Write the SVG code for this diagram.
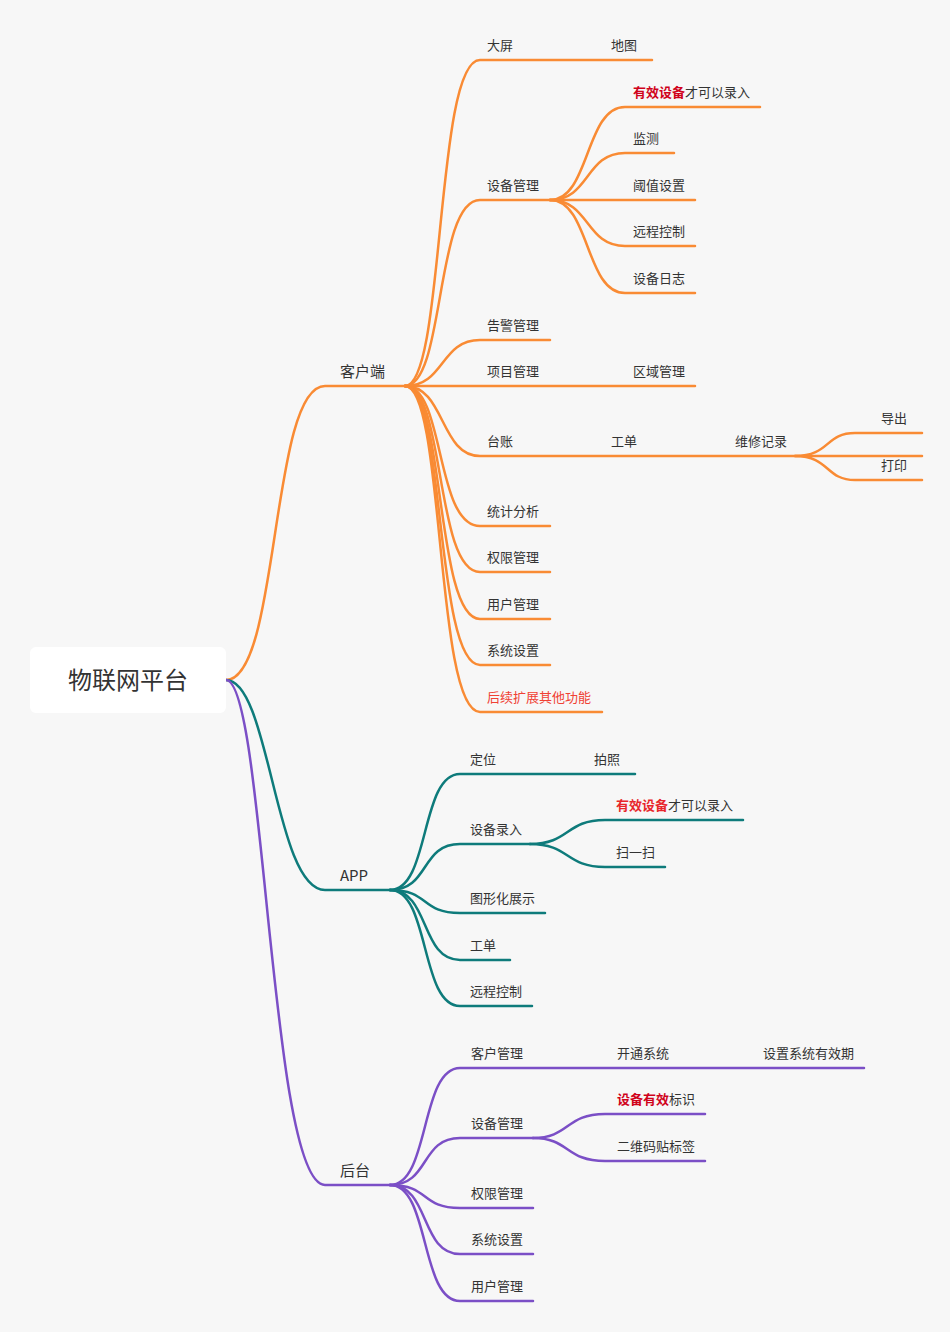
<svg xmlns="http://www.w3.org/2000/svg" width="950" height="1332" viewBox="0 0 950 1332">
<style>
text{font-family:"Noto Sans CJK SC","Liberation Sans",sans-serif;font-size:13px;fill:#333}
.o{fill:none;stroke:#f98b34;stroke-width:2.5;stroke-linecap:round}
.t{fill:none;stroke:#0e7b7b;stroke-width:2.5;stroke-linecap:round}
.p{fill:none;stroke:#7b4fc6;stroke-width:2.5;stroke-linecap:round}
.r{fill:#d0021b;font-weight:bold}
.rr{fill:#f04134}
.l1{font-size:15px}
</style>
<rect width="950" height="1332" fill="#f7f7f7"/>
<g id="connectors">
<path class="o" d="M226,680 C280,680 270,386 325,386 H405"/>
<path class="t" d="M226,680 C270,680 275,890 325,890 H390"/>
<path class="p" d="M226,680 C265,680 270,1185 325,1185 H390"/>
<g class="o">
<path d="M405,386 C445,386 435,60 480,60 H652"/>
<path d="M405,386 C445,386 435,200 480,200 H550"/>
<path d="M405,386 C445,386 440,340 480,340 H550"/>
<path d="M405,386 H695"/>
<path d="M405,386 C445,386 440,456 480,456 H922"/>
<path d="M405,386 C445,386 435,526 480,526 H550"/>
<path d="M405,386 C445,386 435,572 480,572 H550"/>
<path d="M405,386 C445,386 435,619 480,619 H550"/>
<path d="M405,386 C445,386 435,665 480,665 H550"/>
<path d="M405,386 C445,386 435,712 480,712 H602"/>
<path d="M550,200 C590,200 585,107 625,107 H760"/>
<path d="M550,200 C590,200 585,153 625,153 H674"/>
<path d="M550,200 H695"/>
<path d="M550,200 C590,200 585,246 625,246 H695"/>
<path d="M550,200 C590,200 585,293 625,293 H695"/>
<path d="M795,456 C830,456 825,433 855,433 H922"/>
<path d="M795,456 C830,456 825,480 855,480 H922"/>
</g>
<g class="t">
<path d="M390,890 C430,890 420,774 460,774 H635"/>
<path d="M390,890 C430,890 420,844 460,844 H530"/>
<path d="M390,890 C430,890 420,913 460,913 H545"/>
<path d="M390,890 C430,890 420,960 460,960 H510"/>
<path d="M390,890 C430,890 420,1006 460,1006 H532"/>
<path d="M530,844 C570,844 565,820 605,820 H743"/>
<path d="M530,844 C570,844 565,867 605,867 H665"/>
</g>
<g class="p">
<path d="M390,1185 C430,1185 420,1068 460,1068 H864"/>
<path d="M390,1185 C430,1185 420,1138 460,1138 H533"/>
<path d="M390,1185 C430,1185 420,1208 460,1208 H533"/>
<path d="M390,1185 C430,1185 420,1254 460,1254 H533"/>
<path d="M390,1185 C430,1185 420,1301 460,1301 H533"/>
<path d="M533,1138 C570,1138 565,1114 605,1114 H705"/>
<path d="M533,1138 C570,1138 565,1161 605,1161 H705"/>
</g>
</g>
<g id="root"><rect x="30" y="647" width="196" height="66" rx="6" fill="#fff"/><text x="128" y="689" text-anchor="middle" style="font-size:24px">物联网平台</text></g>
<g id="n-client"><text class="l1" x="340" y="377">客户端</text></g>
<g id="n-app"><text class="l1" x="340" y="881">APP</text></g>
<g id="n-admin"><text class="l1" x="340" y="1176">后台</text></g>
<g id="client-children">
<text x="487" y="50">大屏</text><text x="611" y="50">地图</text>
<text x="487" y="190">设备管理</text>
<text x="633" y="97"><tspan class="r">有效设备</tspan>才可以录入</text>
<text x="633" y="143">监测</text>
<text x="633" y="190">阈值设置</text>
<text x="633" y="236">远程控制</text>
<text x="633" y="283">设备日志</text>
<text x="487" y="330">告警管理</text>
<text x="487" y="376">项目管理</text><text x="633" y="376">区域管理</text>
<text x="487" y="446">台账</text><text x="611" y="446">工单</text><text x="735" y="446">维修记录</text>
<text x="881" y="423">导出</text><text x="881" y="470">打印</text>
<text x="487" y="516">统计分析</text>
<text x="487" y="562">权限管理</text>
<text x="487" y="609">用户管理</text>
<text x="487" y="655">系统设置</text>
<text x="487" y="702" class="rr">后续扩展其他功能</text>
</g>
<g id="app-children">
<text x="470" y="764">定位</text><text x="594" y="764">拍照</text>
<text x="470" y="834">设备录入</text>
<text x="616" y="810"><tspan class="r" style="fill:#e8262b">有效设备</tspan>才可以录入</text>
<text x="616" y="857">扫一扫</text>
<text x="470" y="903">图形化展示</text>
<text x="470" y="950">工单</text>
<text x="470" y="996">远程控制</text>
</g>
<g id="admin-children">
<text x="471" y="1058">客户管理</text><text x="617" y="1058">开通系统</text><text x="763" y="1058">设置系统有效期</text>
<text x="471" y="1128">设备管理</text>
<text x="617" y="1104"><tspan class="r">设备有效</tspan>标识</text>
<text x="617" y="1151">二维码贴标签</text>
<text x="471" y="1198">权限管理</text>
<text x="471" y="1244">系统设置</text>
<text x="471" y="1291">用户管理</text>
</g>
</svg>
